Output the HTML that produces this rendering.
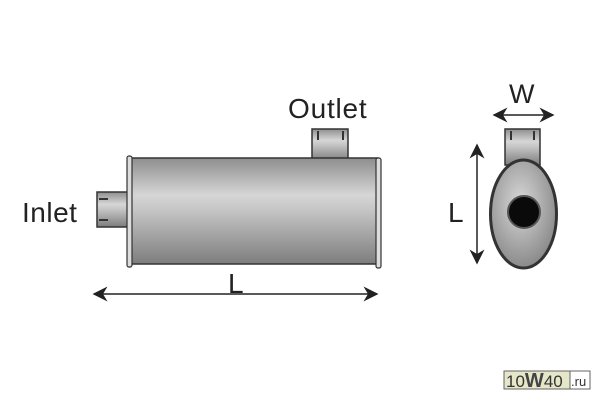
<!DOCTYPE html>
<html><head><style>body{margin:0;background:#fff}</style></head><body>
<svg width="600" height="400" viewBox="0 0 600 400" xmlns="http://www.w3.org/2000/svg" font-family="Liberation Sans, DejaVu Sans, sans-serif">
<defs>
<linearGradient id="g" x1="0" y1="0" x2="0" y2="1">
<stop offset="0" stop-color="#8e8e8e"/><stop offset="0.35" stop-color="#d6d6d6"/><stop offset="0.5" stop-color="#c4c4c4"/><stop offset="1" stop-color="#7d7d7d"/></linearGradient>
<radialGradient id="r" cx="0.45" cy="0.4" r="0.6"><stop offset="0" stop-color="#d8d8d8"/><stop offset="1" stop-color="#8a8a8a"/></radialGradient>
<marker id="a" viewBox="0 0 10 10" refX="9" refY="5" markerWidth="10" markerHeight="10" orient="auto-start-reverse"><path d="M0,0 L10,5 L0,10 L3,5z" fill="#222"/></marker>
</defs>
<rect width="600" height="400" fill="#fff"/>
<rect x="312" y="129" width="36" height="32" fill="url(#g)" stroke="#333" stroke-width="1.5"/>
<line x1="318" y1="131" x2="318" y2="140" stroke="#333" stroke-width="2"/>
<line x1="343" y1="131" x2="343" y2="140" stroke="#333" stroke-width="2"/>
<rect x="97" y="192" width="31" height="35" fill="url(#g)" stroke="#333" stroke-width="1.5"/>
<line x1="99" y1="199" x2="108" y2="199" stroke="#333" stroke-width="2"/>
<line x1="99" y1="220" x2="108" y2="220" stroke="#333" stroke-width="2"/>
<rect x="131" y="158" width="247" height="106" fill="url(#g)" stroke="#333" stroke-width="1.5"/>
<rect x="127" y="156" width="5" height="111" rx="2" fill="#ddd" stroke="#333" stroke-width="1.2"/>
<rect x="376" y="158" width="5" height="110" rx="2" fill="#ddd" stroke="#333" stroke-width="1.2"/>
<text x="288" y="118" font-size="28" letter-spacing="0.8" fill="#222">Outlet</text>
<text x="22" y="222" font-size="28" letter-spacing="0.5" fill="#222">Inlet</text>
<line x1="94" y1="294" x2="377" y2="294" stroke="#222" stroke-width="1.5" marker-start="url(#a)" marker-end="url(#a)"/>
<text x="228" y="293" font-size="28" fill="#222">L</text>
<rect x="505" y="129" width="35" height="36" fill="url(#g)" stroke="#333" stroke-width="1.5"/>
<line x1="511" y1="131" x2="511" y2="140" stroke="#333" stroke-width="2"/>
<line x1="534" y1="131" x2="534" y2="140" stroke="#333" stroke-width="2"/>
<ellipse cx="523.5" cy="214" rx="33" ry="54" fill="url(#r)" stroke="#333" stroke-width="3"/>
<circle cx="524" cy="212" r="16" fill="#0a0a0a" stroke="#555" stroke-width="2"/>
<line x1="494" y1="115" x2="553" y2="115" stroke="#222" stroke-width="1.5" marker-start="url(#a)" marker-end="url(#a)"/>
<text x="509" y="103" font-size="27" fill="#222">W</text>
<line x1="477" y1="145" x2="477" y2="263" stroke="#222" stroke-width="1.5" marker-start="url(#a)" marker-end="url(#a)"/>
<text x="448" y="222" font-size="28" fill="#222">L</text>
<rect x="504" y="371" width="66" height="18" fill="#e6e6c8" stroke="#666"/>
<rect x="570" y="371" width="20" height="18" fill="#fff" stroke="#666"/>
<text x="506" y="387" font-size="17" fill="#333">10<tspan font-weight="bold" font-size="20" fill="#444">W</tspan>40</text>
<text x="571" y="386" font-size="13" fill="#333">.ru</text>
</svg>
</body></html>
